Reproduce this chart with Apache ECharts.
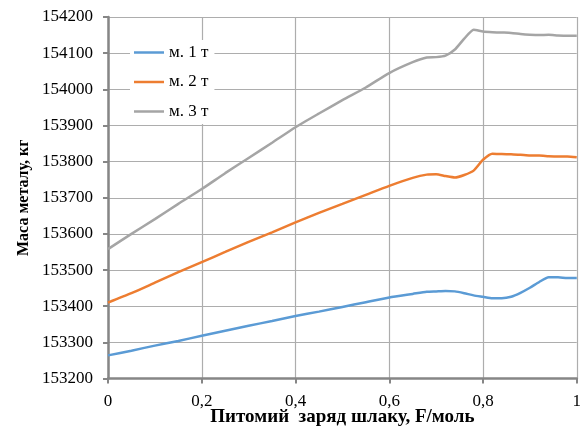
<!DOCTYPE html>
<html>
<head>
<meta charset="utf-8">
<script src="https://cdn.jsdelivr.net/npm/echarts@6/dist/echarts.min.js"></script>
<style>html,body{margin:0;padding:0;background:#fff}#c{width:584px;height:440px}</style>
</head>
<body>
<div id="c"></div>
<script>
var xs = [0,0.05,0.1,0.15,0.2,0.25,0.3,0.35,0.4,0.45,0.5,0.55,0.6,0.65,0.68,0.7,0.72,0.74,0.76,0.78,0.8,0.82,0.84,0.86,0.88,0.9,0.92,0.94,0.96,0.98,1];
var m1 = [153264,153277,153291,153304,153318,153332,153346,153359,153373,153385,153398,153411,153424,153434,153440,153441,153442,153441,153436,153430,153426,153422,153422,153426,153437,153451,153467,153480,153480,153478,153478];
var m2 = [153410,153436,153465,153494,153522,153550,153578,153604,153632,153658,153683,153708,153733,153755,153764,153765,153760,153756,153763,153775,153805,153822,153821,153820,153819,153817,153817,153815,153814,153814,153812];
var m3 = [153558,153600,153641,153683,153724,153768,153810,153852,153895,153933,153970,154005,154045,154075,154088,154089,154093,154110,154140,154165,154160,154158,154157,154156,154153,154151,154150,154151,154149,154148,154148];
var xTicks = [0,0.2,0.4,0.6,0.8,1];
var xTickLabels = ['0','0,2','0,4','0,6','0,8','1'];
var yTicks = [153200,153300,153400,153500,153600,153700,153800,153900,154000,154100,154200];
var seriesNames = ['м. 1 т','м. 2 т','м. 3 т'];
var xTitle = 'Питомий  заряд шлаку, F/моль';
var yTitle = 'Маса металу, кг';

function pairs(ys){ return xs.map(function(x,i){ return [x, ys[i]]; }); }
var font = 'Liberation Serif';
var colors = ['#5B9BD5','#ED7D31','#A5A5A5'];
var chart = echarts.init(document.getElementById('c'), null, {renderer:'canvas'});
var mk = function(name, ys, c){
  return {name:name, type:'line', data:pairs(ys), showSymbol:false, smooth:0.2,
    lineStyle:{color:c, width:2.5}, itemStyle:{color:c}, z:3};
};
chart.setOption({
  animation:false,
  textStyle:{fontFamily:font},
  grid:{left:108, right:7, top:17, bottom:61.5, containLabel:false},
  legend:{
    orient:'vertical', left:130, top:40, backgroundColor:'#fff', padding:[4,6,4,4],
    icon:'rect', itemWidth:30, itemHeight:2.5, itemGap:12.5,
    textStyle:{fontFamily:font, fontSize:17, color:'#000', lineHeight:17},
    data:seriesNames
  },
  xAxis:{
    type:'value', min:xTicks[0], max:xTicks[xTicks.length-1], interval:xTicks[1]-xTicks[0],
    name:xTitle, nameLocation:'middle', nameGap:29, nameMoveOverlap:false,
    nameTextStyle:{fontFamily:font, fontSize:19, fontWeight:'bold', color:'#000'},
    axisLine:{lineStyle:{color:'#868686', width:2.5}},
    axisTick:{show:true, length:5, lineStyle:{color:'#868686', width:2}},
    axisLabel:{fontFamily:font, fontSize:17, color:'#000', margin:15, hideOverlap:false,
      formatter:function(v){
        var i = xTicks.findIndex(function(t){ return Math.abs(t - v) < 1e-9; });
        return i >= 0 ? xTickLabels[i] : String(v).replace('.', ',');
      }},
    splitLine:{show:true, lineStyle:{color:'#adadad', width:1.2}}
  },
  yAxis:{
    type:'value', min:yTicks[0], max:yTicks[yTicks.length-1], interval:yTicks[1]-yTicks[0],
    name:yTitle, nameLocation:'middle', nameGap:76, nameMoveOverlap:false,
    nameTextStyle:{fontFamily:font, fontSize:16, fontWeight:'bold', color:'#000'},
    axisLine:{show:true, lineStyle:{color:'#868686', width:2.5}},
    axisTick:{show:true, length:5, lineStyle:{color:'#868686', width:2}},
    axisLabel:{fontFamily:font, fontSize:17, color:'#000', margin:15,
      formatter:function(v){ return String(Math.round(v)); }},
    splitLine:{show:true, lineStyle:{color:'#adadad', width:1.2}}
  },
  series:[mk(seriesNames[0], m1, colors[0]), mk(seriesNames[1], m2, colors[1]), mk(seriesNames[2], m3, colors[2])]
});
</script>
</body>
</html>
